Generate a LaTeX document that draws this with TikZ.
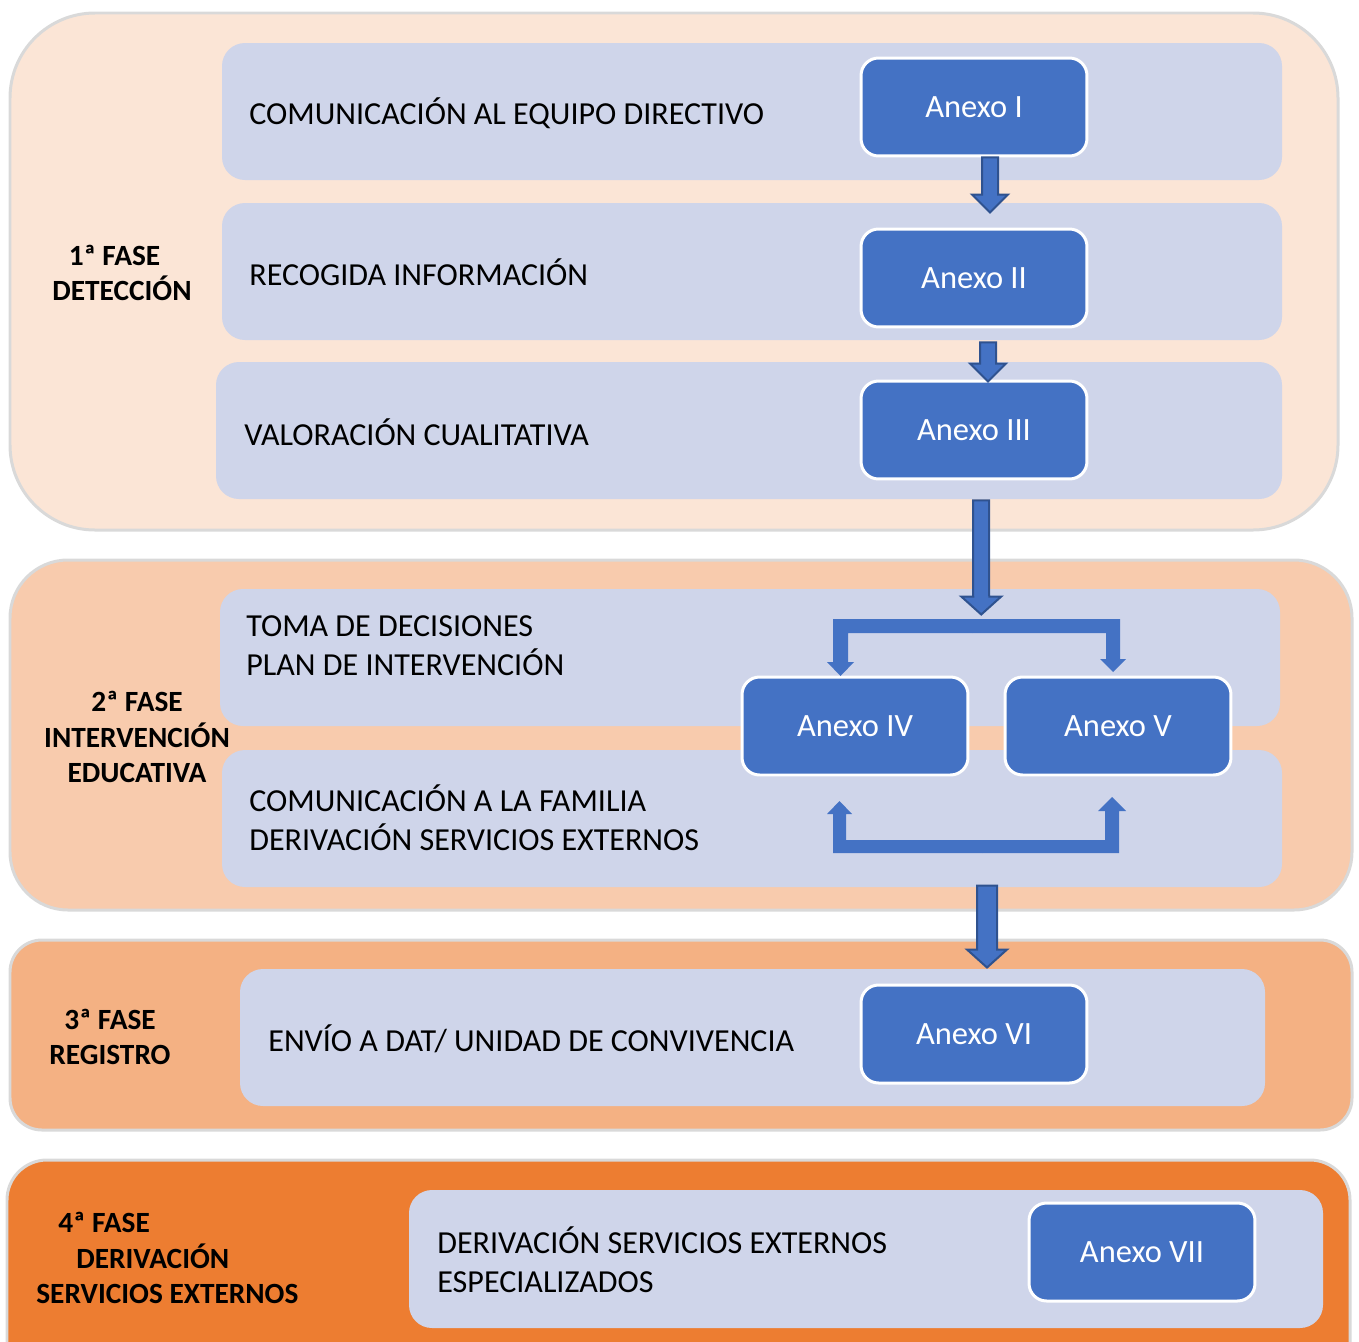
\documentclass[tikz,border=0pt]{standalone}
\usepackage{fontspec}
\setmainfont{Carlito}
\usetikzlibrary{calc}

\definecolor{fase1}{HTML}{FBE5D6}
\definecolor{fase2}{HTML}{F8CBAD}
\definecolor{fase3}{HTML}{F4B183}
\definecolor{fase4}{HTML}{ED7D31}
\definecolor{panelblue}{HTML}{CFD5EA}
\definecolor{anexoblue}{HTML}{4472C4}
\definecolor{arrowedge}{HTML}{2F528F}
\definecolor{faseedge}{HTML}{D9D9D9}

\tikzset{
  fase/.style={draw=faseedge,line width=0.06cm},
  panel/.style={fill=panelblue,rounded corners=0.46cm},
  anexo/.style={draw=white,line width=0.06cm,fill=anexoblue,rounded corners=0.35cm,
    minimum width=4.52cm,minimum height=1.96cm,text=white,
    font=\fontsize{18.5}{22}\selectfont},
  paneltext/.style={anchor=west,inner sep=0,align=left,
    font=\fontsize{18.25}{22.1}\selectfont},
  fasetext/.style={inner sep=0,align=center,
    font=\bfseries\fontsize{16.7}{20.4}\selectfont},
  blockarrow/.style={fill=anexoblue,draw=arrowedge,line width=0.04cm,line join=miter},
  splitarrow/.style={fill=anexoblue}
}

% block arrow pointing down: from, tip, half shaft, half head
\newcommand{\blockdown}[4]{%
  \filldraw[blockarrow] ($#1+(-#3,0)$) -- ($#1+(#3,0)$) -- ($#2+(#3,-18)$)
    -- ($#2+(#4,-18)$) -- #2 -- ($#2+(-#4,-18)$) -- ($#2+(-#3,-18)$) -- cycle;}

\begin{document}
\begin{tikzpicture}[x=0.02cm,y=-0.02cm]
    \useasboundingbox (0,0) rectangle (1359,1342);
    \clip (0,0) rectangle (1359,1342);

    % phases
    \filldraw[fase,fill=fase1,rounded corners=1.7cm] (10,13) rectangle (1338,530);
    \filldraw[fase,fill=fase2,rounded corners=1.16cm] (10,560) rectangle (1352,910);
    \filldraw[fase,fill=fase3,rounded corners=0.64cm] (10,940) rectangle (1352,1130);
    \filldraw[fase,fill=fase4,rounded corners=0.8cm] (7,1160) rectangle (1350,1400);

    % panels
    \fill[panel] (222,43) rectangle (1282,180);
    \fill[panel] (222,203) rectangle (1282,340);
    \fill[panel] (216,362) rectangle (1282,499);
    \fill[panel] (220,589) rectangle (1280,726);
    \fill[panel] (222,750) rectangle (1282,887);
    \fill[panel] (240,969) rectangle (1265,1106);
    \fill[panel] (409,1190) rectangle (1323,1328);

    % phase labels
    \node[fasetext] (f1) at (122,273) {\hspace{-0.3cm}1ª FASE\\ DETECCIÓN};
    \node[fasetext] (f2) at (137,737) {2ª FASE\\INTERVENCIÓN\\EDUCATIVA};
    \node[fasetext] (f3) at (110,1037) {3ª FASE\\REGISTRO};
    \node[fasetext,anchor=west,align=left] (f4) at (36,1258)
      {\hspace{0.44cm}4ª FASE\\\hspace{0.8cm}DERIVACIÓN\\SERVICIOS EXTERNOS};

    % panel texts
    \node[paneltext] (t1) at (249,113) {COMUNICACIÓN AL EQUIPO DIRECTIVO};
    \node[paneltext] (t2) at (249,272) {RECOGIDA INFORMACIÓN};
    \node[paneltext] (t3) at (244,432) {VALORACIÓN CUALITATIVA};
    \node[paneltext] (t4) at (246,646) {TOMA DE DECISIONES\\PLAN DE INTERVENCIÓN};
    \node[paneltext] (t5) at (249,818) {COMUNICACIÓN A LA FAMILIA\\DERIVACIÓN SERVICIOS EXTERNOS};
    \node[paneltext] (t6) at (268,1039) {ENVÍO A DAT/ UNIDAD DE CONVIVENCIA};
    \node[paneltext] (t7) at (437,1260) {DERIVACIÓN SERVICIOS EXTERNOS\\ESPECIALIZADOS};

    % anexos
    \node[anexo] (an1) at (974,107) {Anexo I};
    \node[anexo] (an2) at (974,278) {Anexo II};
    \node[anexo] (an3) at (974,430) {Anexo III};
    \node[anexo] (an4) at (855,726) {Anexo IV};
    \node[anexo] (an5) at (1118,726) {Anexo V};
    \node[anexo] (an6) at (974,1034) {Anexo VI};
    \node[anexo] (an7) at (1142,1252) {Anexo VII};

    % straight arrows
    \blockdown{($(an1.south)+(16,0)$)}{($(an2.north)+(16,-15)$)}{8}{18}
    \blockdown{($(an2.south)+(14,14)$)}{($(an3.north)+(14,2)$)}{8}{18}
    \blockdown{($(an3.south)+(7,20)$)}{($(an4.north)!0.48!(an5.north)+(0,-61)$)}{8}{20}
    \blockdown{($(an6.north)+(13,-98)$)}{($(an6.north)+(13,-16)$)}{10}{20}

    % split arrows, top
    \fill[splitarrow] (972,619) -- (833,619) -- (833,662) -- (827,662) -- (840.5,676)
      -- (854,662) -- (848,662) -- (848,633) -- (972,633) -- cycle;
    \fill[splitarrow] (972,619) -- (1120,619) -- (1120,659) -- (1126,659) -- (1113,672)
      -- (1100,659) -- (1106,659) -- (1106,633) -- (972,633) -- cycle;

    % split arrows, bottom
    \fill[splitarrow] (982,853) -- (833,853) -- (833,814) -- (827,814) -- (839.5,801)
      -- (852,814) -- (846,814) -- (846,840) -- (982,840) -- cycle;
    \fill[splitarrow] (982,853) -- (1119,853) -- (1119,811) -- (1126,811) -- (1112,797)
      -- (1098,811) -- (1105,811) -- (1105,840) -- (982,840) -- cycle;

  \end{tikzpicture}
\end{document}
